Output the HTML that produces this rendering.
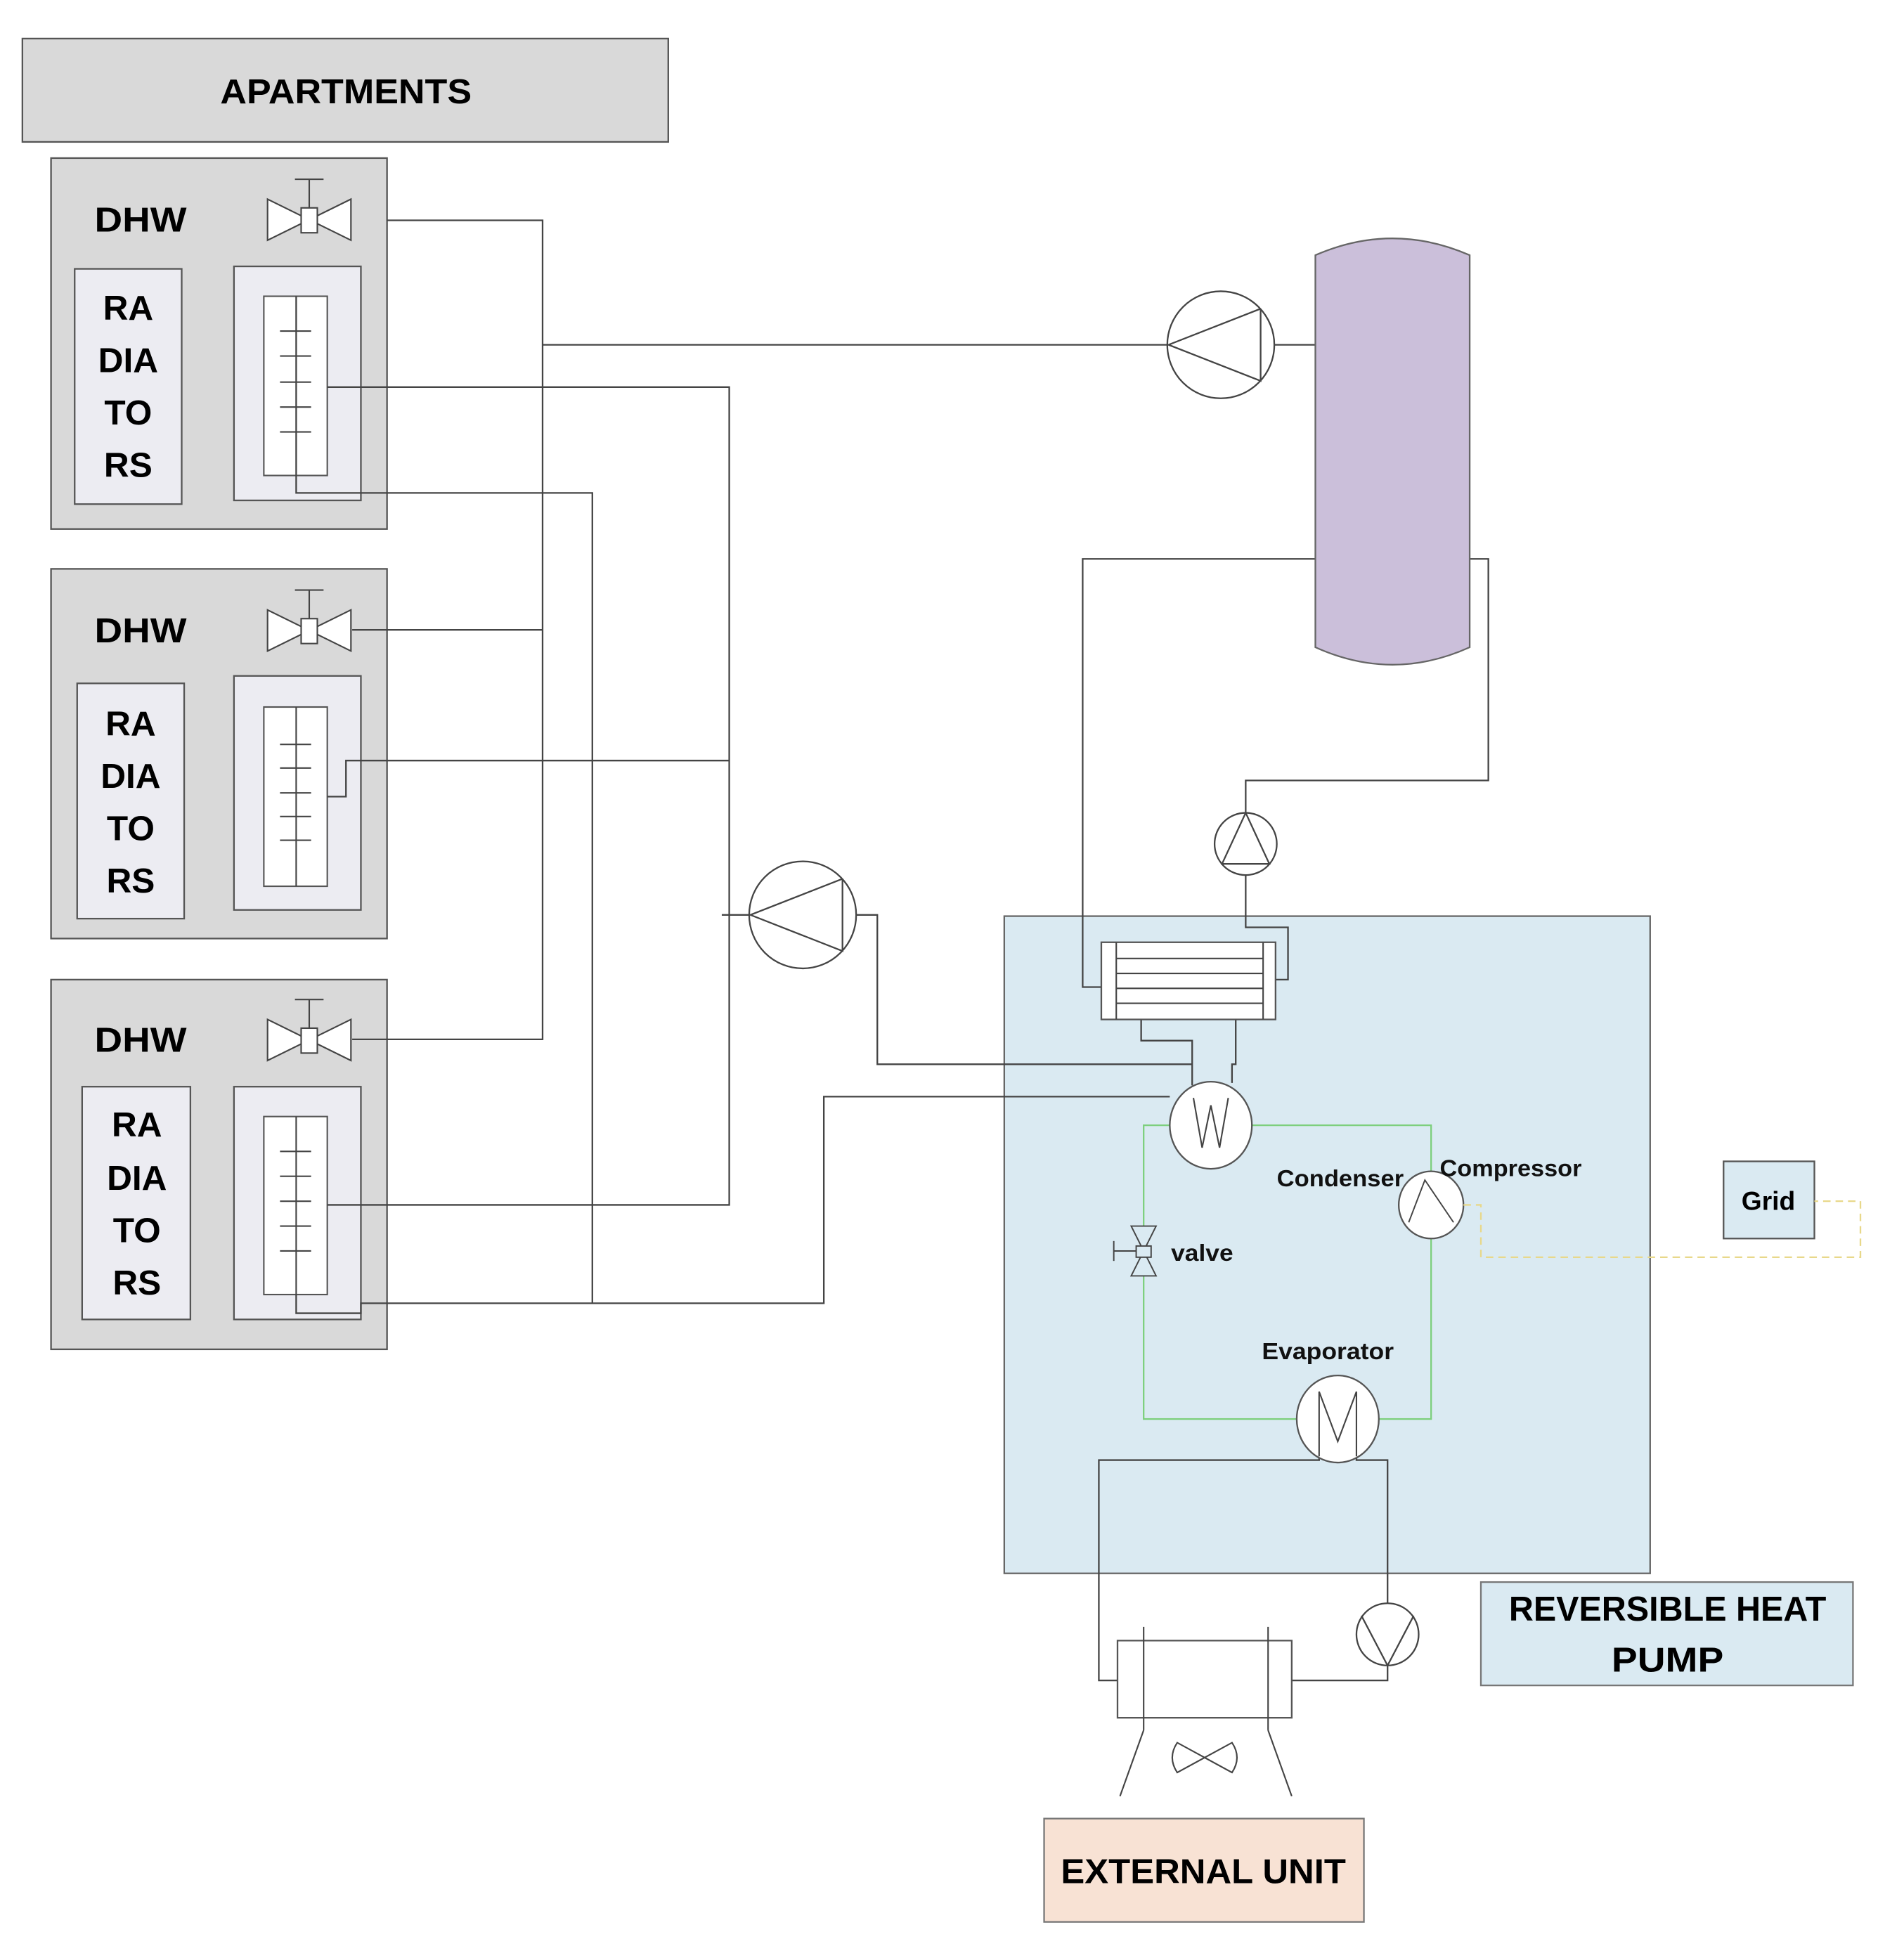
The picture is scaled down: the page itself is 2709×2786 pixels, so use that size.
<!DOCTYPE html>
<html><head><meta charset="utf-8"><style>html,body{margin:0;padding:0;background:#fff}svg{display:block}</style></head>
<body>
<svg width="2709" height="2786" viewBox="0 0 1530 1573" preserveAspectRatio="none" xmlns="http://www.w3.org/2000/svg" font-family="'Liberation Sans Narrow','Liberation Sans',sans-serif" font-weight="bold">
<defs>
<g id="valve">
<path d="M0,0 L0,33 L67,0 L67,33 Z" fill="#fff" stroke="#444" stroke-width="1.2"/>
<rect x="27" y="7" width="13" height="20" fill="#fff" stroke="#444" stroke-width="1.2"/>
<line x1="33.5" y1="7" x2="33.5" y2="-16" stroke="#444" stroke-width="1.2"/>
<line x1="22" y1="-16" x2="45" y2="-16" stroke="#444" stroke-width="1.2"/>
</g>
</defs>
<rect width="1530" height="1573" fill="#fff"/>

<rect x="18" y="31" width="519" height="83" fill="#d9d9d9" stroke="#555" stroke-width="1.3"/>
<text x="278" y="83" font-size="28" text-anchor="middle" textLength="202" lengthAdjust="spacingAndGlyphs">APARTMENTS</text>

<rect x="41" y="127" width="270" height="298" fill="#d9d9d9" stroke="#555" stroke-width="1.3"/>
<text x="113" y="186" font-size="28" text-anchor="middle" textLength="74" lengthAdjust="spacingAndGlyphs">DHW</text>
<use href="#valve" x="215" y="160"/>
<rect x="60" y="216" width="86" height="189" fill="#ececf2" stroke="#555" stroke-width="1.3"/>
<g font-size="28" text-anchor="middle"><text x="103" y="257">RA</text><text x="103" y="299">DIA</text><text x="103" y="341">TO</text><text x="103" y="383">RS</text></g>
<rect x="188" y="214" width="102" height="188" fill="#ececf2" stroke="#555" stroke-width="1.3"/>
<rect x="212" y="238" width="51" height="144" fill="#fff" stroke="#555" stroke-width="1.2"/>
<g stroke="#444" stroke-width="1.2"><line x1="225" y1="266" x2="250" y2="266"/><line x1="225" y1="286" x2="250" y2="286"/><line x1="225" y1="307" x2="250" y2="307"/><line x1="225" y1="327" x2="250" y2="327"/><line x1="225" y1="347" x2="250" y2="347"/></g>

<rect x="41" y="457" width="270" height="297" fill="#d9d9d9" stroke="#555" stroke-width="1.3"/>
<text x="113" y="516" font-size="28" text-anchor="middle" textLength="74" lengthAdjust="spacingAndGlyphs">DHW</text>
<use href="#valve" x="215" y="490"/>
<rect x="62" y="549" width="86" height="189" fill="#ececf2" stroke="#555" stroke-width="1.3"/>
<g font-size="28" text-anchor="middle"><text x="105" y="591">RA</text><text x="105" y="633">DIA</text><text x="105" y="675">TO</text><text x="105" y="717">RS</text></g>
<rect x="188" y="543" width="102" height="188" fill="#ececf2" stroke="#555" stroke-width="1.3"/>
<rect x="212" y="568" width="51" height="144" fill="#fff" stroke="#555" stroke-width="1.2"/>
<g stroke="#444" stroke-width="1.2"><line x1="225" y1="598" x2="250" y2="598"/><line x1="225" y1="617" x2="250" y2="617"/><line x1="225" y1="637" x2="250" y2="637"/><line x1="225" y1="656" x2="250" y2="656"/><line x1="225" y1="675" x2="250" y2="675"/><line x1="238" y1="568" x2="238" y2="712"/></g>

<rect x="41" y="787" width="270" height="297" fill="#d9d9d9" stroke="#555" stroke-width="1.3"/>
<text x="113" y="845" font-size="28" text-anchor="middle" textLength="74" lengthAdjust="spacingAndGlyphs">DHW</text>
<use href="#valve" x="215" y="819"/>
<rect x="66" y="873" width="87" height="187" fill="#ececf2" stroke="#555" stroke-width="1.3"/>
<g font-size="28" text-anchor="middle"><text x="110" y="913">RA</text><text x="110" y="956">DIA</text><text x="110" y="998">TO</text><text x="110" y="1040">RS</text></g>
<rect x="188" y="873" width="102" height="187" fill="#ececf2" stroke="#555" stroke-width="1.3"/>
<rect x="212" y="897" width="51" height="143" fill="#fff" stroke="#555" stroke-width="1.2"/>
<g stroke="#444" stroke-width="1.2"><line x1="225" y1="925" x2="250" y2="925"/><line x1="225" y1="945" x2="250" y2="945"/><line x1="225" y1="965" x2="250" y2="965"/><line x1="225" y1="985" x2="250" y2="985"/><line x1="225" y1="1005" x2="250" y2="1005"/><line x1="238" y1="897" x2="238" y2="1040"/></g>

<rect x="807" y="736" width="519" height="528" fill="#daeaf2" stroke="#666" stroke-width="1.3"/>

<g fill="none" stroke="#444" stroke-width="1.3">
<polyline points="311,177 436,177 436,835 283,835"/>
<line x1="283" y1="506" x2="436" y2="506"/>
<polyline points="436,277 938,277"/>
<polyline points="1024,277 1057,277"/>
<polyline points="238,238 238,396 476,396 476,1047"/>
<polyline points="263,311 586,311 586,968 263,968"/>
<polyline points="263,640 278,640 278,611 586,611"/>
<polyline points="238,1040 238,1055 290,1055 290,1047 662,1047 662,881 940,881"/>
<line x1="580" y1="735" x2="602" y2="735"/>
<polyline points="688,735 705,735 705,855 958,855"/>
<polyline points="1057,449 870,449 870,793 885,793"/>
<polyline points="1181,449 1196,449 1196,627 1001,627 1001,653"/>
<polyline points="1001,703 1001,745 1035,745 1035,787 1025,787"/>
<polyline points="917,819 917,836 958,836 958,872"/>
<polyline points="993,819 993,855 990,855 990,870"/>
<polyline points="1060,1170 1060,1173 883,1173 883,1350 898,1350"/>
<polyline points="1090,1170 1090,1173 1115,1173 1115,1288"/>
<polyline points="1115,1338 1115,1350 1038,1350"/>
</g>

<g fill="#fff" stroke="#444" stroke-width="1.3">
<circle cx="981" cy="277" r="43"/>
<polyline fill="none" points="1013,248 939,277 1013,306 1013,248"/>
<circle cx="645" cy="735" r="43"/>
<polyline fill="none" points="677,706 603,735 677,764 677,706"/>
<circle cx="1001" cy="678" r="25"/>
<polyline fill="none" points="1001,653 982,694 1020,694 1001,653"/>
<circle cx="1115" cy="1313" r="25"/>
<polyline fill="none" points="1094,1298 1115,1338 1136,1298"/>
</g>

<path d="M1057,205 Q1119,178 1181,205 L1181,520 Q1119,548 1057,520 Z" fill="#cbbfda" stroke="#666" stroke-width="1.3"/>

<rect x="885" y="757" width="140" height="62" fill="#fff" stroke="#555" stroke-width="1.3"/>
<g stroke="#444" stroke-width="1.2">
<line x1="897" y1="757" x2="897" y2="819"/><line x1="1015" y1="757" x2="1015" y2="819"/>
<line x1="897" y1="770" x2="1015" y2="770"/><line x1="897" y1="782" x2="1015" y2="782"/><line x1="897" y1="794" x2="1015" y2="794"/><line x1="897" y1="806" x2="1015" y2="806"/>
</g>

<rect x="919" y="904" width="231" height="236" fill="none" stroke="#7dcf7d" stroke-width="1.3"/>
<ellipse cx="973" cy="904" rx="33" ry="35" fill="#fff" stroke="#555" stroke-width="1.3"/>
<polyline points="959,882 966,922 973,888 980,922 987,882" fill="none" stroke="#444" stroke-width="1.2"/>
<ellipse cx="1150" cy="968" rx="26" ry="27" fill="#fff" stroke="#555" stroke-width="1.3"/>
<polyline points="1132,982 1145,948 1168,982" fill="none" stroke="#444" stroke-width="1.1"/>
<ellipse cx="1075" cy="1140" rx="33" ry="35" fill="#fff" stroke="#555" stroke-width="1.3"/>
<polyline points="1060,1170 1060,1118 1075,1158 1090,1118 1090,1170" fill="none" stroke="#444" stroke-width="1.2"/>
<g fill="#daeaf2" stroke="#444" stroke-width="1.1">
<path d="M909,985 L929,985 L919,1005 Z"/><path d="M909,1025 L929,1025 L919,1005 Z"/>
<rect x="913" y="1001" width="12" height="9"/>
<line x1="895" y1="1005" x2="913" y2="1005"/><line x1="895" y1="997" x2="895" y2="1013"/>
</g>
<g font-size="19" fill="#111">
<text x="1026" y="953" textLength="102" lengthAdjust="spacingAndGlyphs">Condenser</text>
<text x="1157" y="945" textLength="114" lengthAdjust="spacingAndGlyphs">Compressor</text>
<text x="941" y="1013" textLength="50" lengthAdjust="spacingAndGlyphs">valve</text>
<text x="1014" y="1092" textLength="106" lengthAdjust="spacingAndGlyphs">Evaporator</text>
</g>

<rect x="1385" y="933" width="73" height="62" fill="#daeaf2" stroke="#555" stroke-width="1.3"/>
<text x="1421" y="972" font-size="21" text-anchor="middle">Grid</text>
<polyline points="1176,968 1190,968 1190,1010 1495,1010 1495,965 1458,965" fill="none" stroke="#e8d88a" stroke-width="1.3" stroke-dasharray="6,4"/>

<rect x="898" y="1318" width="140" height="62" fill="#fff" stroke="#555" stroke-width="1.3"/>
<g stroke="#444" stroke-width="1.2" fill="none">
<line x1="919" y1="1307" x2="919" y2="1390"/><line x1="1019" y1="1307" x2="1019" y2="1390"/>
<line x1="919" y1="1390" x2="900" y2="1443"/><line x1="1019" y1="1390" x2="1038" y2="1443"/>
<path d="M968,1412 L946,1400 Q938,1412 946,1424 Z M968,1412 L990,1400 Q998,1412 990,1424 Z"/>
</g>
<rect x="839" y="1461" width="257" height="83" fill="#f8e2d4" stroke="#777" stroke-width="1.3"/>
<text x="967" y="1513" font-size="28" text-anchor="middle" textLength="229" lengthAdjust="spacingAndGlyphs">EXTERNAL UNIT</text>

<rect x="1190" y="1271" width="299" height="83" fill="#daeaf2" stroke="#777" stroke-width="1.3"/>
<text x="1340" y="1302" font-size="28" text-anchor="middle" textLength="255" lengthAdjust="spacingAndGlyphs">REVERSIBLE HEAT</text>
<text x="1340" y="1343" font-size="28" text-anchor="middle" textLength="90" lengthAdjust="spacingAndGlyphs">PUMP</text>
</svg>
</body></html>
